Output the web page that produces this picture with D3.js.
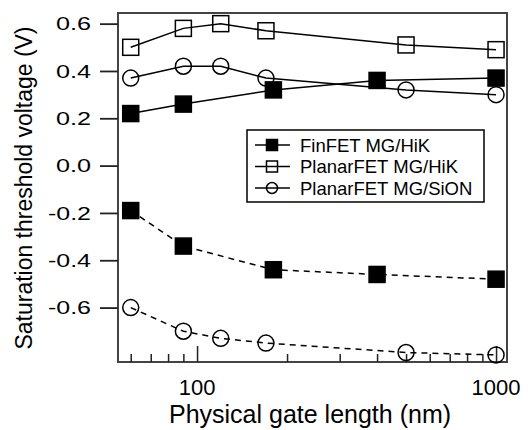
<!DOCTYPE html>
<html><head><meta charset="utf-8">
<script src="https://cdn.jsdelivr.net/npm/d3@7"></script>
<style>body{margin:0;background:#fff}svg{display:block}text{font-family:"Liberation Sans",Arial,Helvetica,sans-serif;fill:#000}</style>
</head><body><svg id="c" width="528" height="430"></svg>
<script>
const xFin = [60, 90, 180, 400, 1000];
const finUpper = [0.22, 0.26, 0.32, 0.36, 0.37];
const finLower = [-0.19, -0.34, -0.44, -0.46, -0.48];
const xPlanar = [60, 90, 120, 170, 500, 1000];
const hikUpper = [0.50, 0.58, 0.60, 0.57, 0.51, 0.49];
const sionUpper = [0.37, 0.42, 0.42, 0.37, 0.32, 0.30];
const sionLower = [-0.60, -0.70, -0.73, -0.75, -0.79, -0.80];
const yTicks = [-0.6, -0.4, -0.2, 0.0, 0.2, 0.4, 0.6];
const xMajor = [100, 1000];
const xMinor = [60, 70, 80, 90, 200, 300, 400, 500, 600, 700, 800, 900];
const legendLabels = ["FinFET MG/HiK", "PlanarFET MG/HiK", "PlanarFET MG/SiON"];

const svg = d3.select("#c");
const L = 118, R = 507, T = 13, B = 362;
const x = d3.scaleLog().domain([54.4, 1088]).range([L, R]);
const y = d3.scaleLinear().domain([-0.830, 0.645]).range([B, T]);

// frame
svg.append("rect").attr("x", L).attr("y", T).attr("width", R - L).attr("height", B - T)
  .attr("fill", "none").attr("stroke", "#444").attr("stroke-width", 2);

// y axis (outward ticks)
const yAxis = d3.axisLeft(y).tickValues(yTicks).tickSize(18).tickPadding(9)
  .tickFormat(d3.format(".1f"));
const gy = svg.append("g").attr("transform", `translate(${L},0)`).call(yAxis);
gy.select(".domain").remove();
gy.selectAll(".tick line").attr("stroke", "#222").attr("stroke-width", 1.8);
gy.selectAll(".tick text").style("font-size", "19px")
  .attr("textLength", d => d < 0 ? 43 : 35).attr("lengthAdjust", "spacingAndGlyphs")
  .text(d => d3.format(".1f")(d).replace("−", "-"));

// x axis (inward ticks)
const gx = svg.append("g").attr("transform", `translate(0,${B})`);
gx.call(d3.axisTop(x).tickValues(xMinor).tickSize(8).tickFormat(""));
gx.call(g => g.select(".domain").remove());
gx.selectAll(".tick line").attr("stroke", "#222").attr("stroke-width", 1.5);
const gx2 = svg.append("g").attr("transform", `translate(0,${B})`)
  .call(d3.axisTop(x).tickValues(xMajor).tickSize(16).tickFormat(""));
gx2.select(".domain").remove();
gx2.selectAll(".tick line").attr("stroke", "#222").attr("stroke-width", 1.5);
svg.append("g").selectAll("text").data(xMajor).join("text")
  .attr("x", d => x(d)).attr("y", 395).attr("text-anchor", "middle")
  .style("font-size", "22px").text(d => d);

// axis labels
svg.append("text").attr("x", 310).attr("y", 423).attr("text-anchor", "middle")
  .style("font-size", "25px").text("Physical gate length (nm)");
svg.append("text").attr("transform", "translate(32,188) rotate(-90)").attr("text-anchor", "middle")
  .style("font-size", "23px").attr("textLength", 323).attr("lengthAdjust", "spacingAndGlyphs")
  .text("Saturation threshold voltage (V)");

const line = d3.line().x(d => x(d[0])).y(d => y(d[1]));
const series = [
  {xs: xFin, ys: finUpper, m: "fsq", dash: null},
  {xs: xFin, ys: finLower, m: "fsq", dash: "6,5"},
  {xs: xPlanar, ys: hikUpper, m: "osq", dash: null},
  {xs: xPlanar, ys: sionUpper, m: "ci", dash: null},
  {xs: xPlanar, ys: sionLower, m: "ci", dash: "6,5"}
];
function marker(g, type, cx, cy, s) {
  if (type === "ci") {
    g.append("circle").attr("cx", cx).attr("cy", cy).attr("r", s / 2)
      .attr("fill", "none").attr("stroke", "#000").attr("stroke-width", 1.5);
  } else {
    g.append("rect").attr("x", cx - s / 2).attr("y", cy - s / 2).attr("width", s).attr("height", s)
      .attr("fill", type === "fsq" ? "#000" : "none").attr("stroke", "#000").attr("stroke-width", 1.5);
  }
}
const gs = svg.append("g");
series.forEach(s => {
  const pts = s.xs.map((v, i) => [v, s.ys[i]]);
  gs.append("path").attr("d", line(pts)).attr("fill", "none").attr("stroke", "#000")
    .attr("stroke-width", 1.5).attr("stroke-dasharray", s.dash);
  pts.forEach(p => marker(gs, s.m, x(p[0]), y(p[1]), 16));
});

// legend
const lg = svg.append("g");
lg.append("rect").attr("x", 247).attr("y", 130).attr("width", 237).attr("height", 72)
  .attr("fill", "#fff").attr("stroke", "#000").attr("stroke-width", 1.5);
const lm = ["fsq", "osq", "ci"];
legendLabels.forEach((t, i) => {
  const cy = 145 + i * 21.5;
  lg.append("line").attr("x1", 255).attr("x2", 290).attr("y1", cy).attr("y2", cy)
    .attr("stroke", "#000").attr("stroke-width", 1.5);
  marker(lg, lm[i], 272, cy, 11);
  lg.append("text").attr("x", 300).attr("y", cy + 6.5).style("font-size", "18.5px").text(t);
});
</script></body></html>
